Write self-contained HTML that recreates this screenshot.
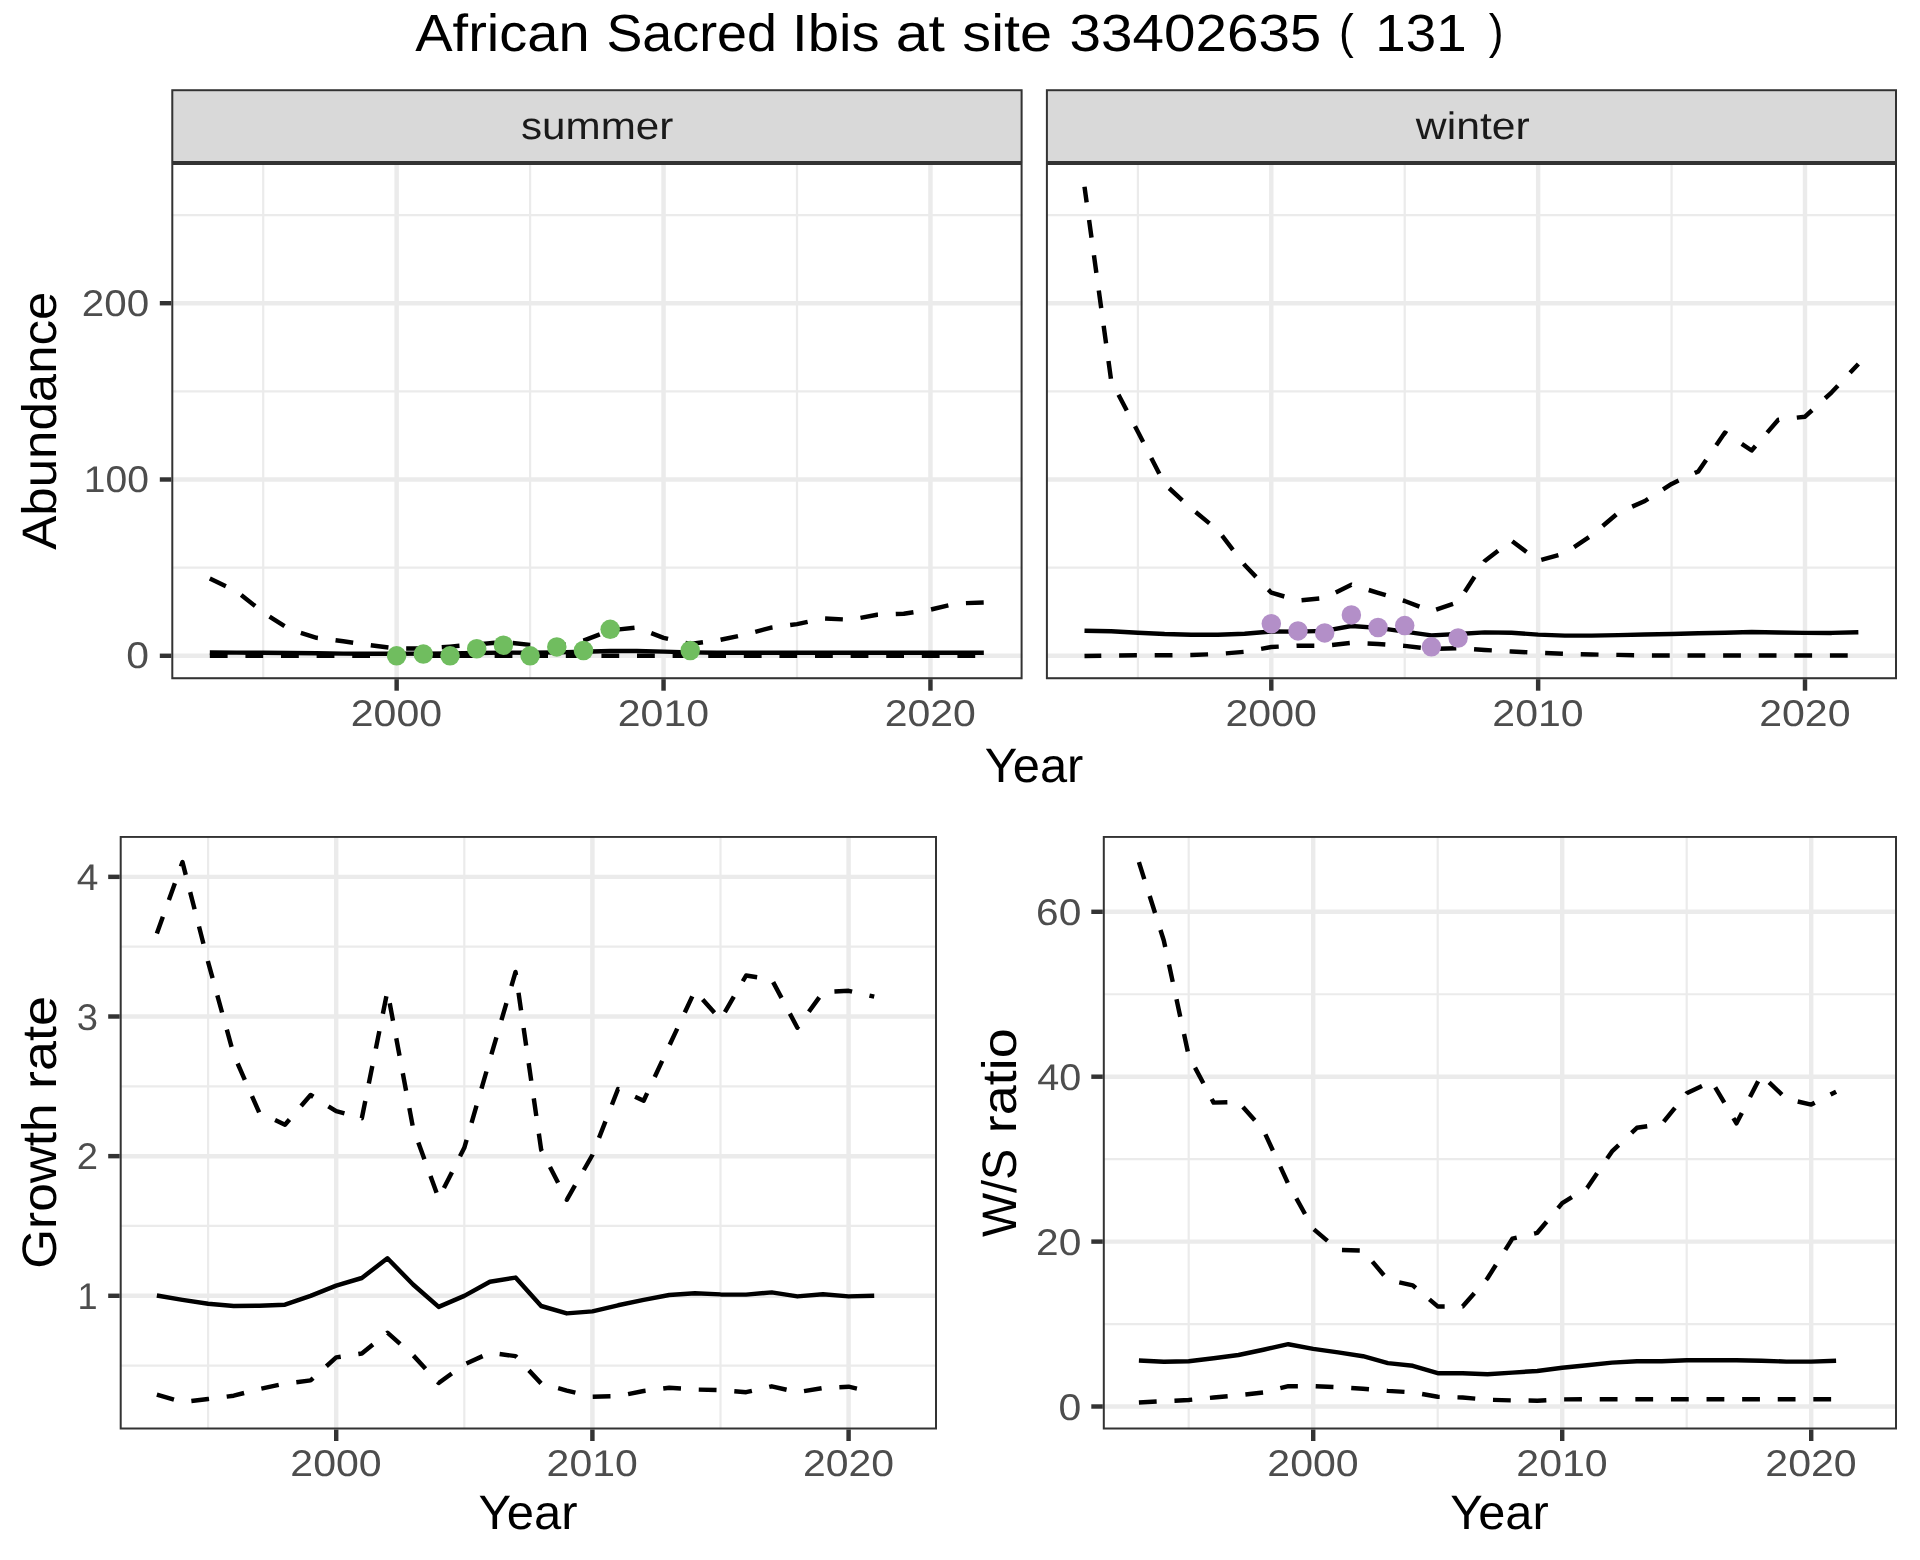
<!DOCTYPE html>
<html><head><meta charset="utf-8"><title>African Sacred Ibis at site 33402635</title>
<style>html,body{margin:0;padding:0;background:#ffffff;}body{width:1920px;height:1560px;overflow:hidden;}svg{display:block;will-change:transform;}text{text-rendering:geometricPrecision;}text{font-family:"Liberation Sans",sans-serif;}</style>
</head><body>
<svg width="1920" height="1560" viewBox="0 0 1920 1560" font-family="Liberation Sans, sans-serif">
<rect width="1920" height="1560" fill="#ffffff"/>
<text transform="translate(415.21,50.6) scale(1.0713,1)" font-size="52.3" fill="#000000">African</text>
<text transform="translate(606.38,50.6) scale(1.0297,1)" font-size="52.3" fill="#000000">Sacred</text>
<text transform="translate(792.05,50.6) scale(1.0747,1)" font-size="52.3" fill="#000000">Ibis</text>
<text transform="translate(895.78,50.6) scale(1.1269,1)" font-size="52.3" fill="#000000">at</text>
<text transform="translate(962.37,50.6) scale(1.1010,1)" font-size="52.3" fill="#000000">site</text>
<text transform="translate(1069.47,50.6) scale(1.0825,1)" font-size="52.3" fill="#000000">33402635</text>
<text transform="translate(1339.07,48) scale(0.8477,0.926)" font-size="52.3" fill="#000000">(</text>
<text transform="translate(1375.27,50.6) scale(1.0462,1)" font-size="52.3" fill="#000000">131</text>
<text transform="translate(1488.68,48) scale(0.8479,0.926)" font-size="52.3" fill="#000000">)</text>
<clipPath id="cs0"><rect x="171.3" y="89.2" width="851.3" height="73.8"/></clipPath>
<rect x="171.3" y="89.2" width="851.3" height="73.8" fill="#D9D9D9" stroke="#333333" stroke-width="4.0" clip-path="url(#cs0)"/>
<clipPath id="cs1"><rect x="1045.9" y="89.2" width="851.1" height="73.8"/></clipPath>
<rect x="1045.9" y="89.2" width="851.1" height="73.8" fill="#D9D9D9" stroke="#333333" stroke-width="4.0" clip-path="url(#cs1)"/>
<text transform="translate(520.98,138.75) scale(1.1004,1)" font-size="38.35" fill="#1A1A1A">summer</text>
<text transform="translate(1415.84,138.75) scale(1.1140,1)" font-size="38.35" fill="#1A1A1A">winter</text>
<clipPath id="cp1"><rect x="171.3" y="163" width="851.3" height="516.2"/></clipPath>
<g clip-path="url(#cp1)">
<rect x="171.3" y="163" width="851.3" height="516.2" fill="#ffffff"/>
<line x1="171.3" x2="1022.6" y1="567.65" y2="567.65" stroke="#EBEBEB" stroke-width="2.2"/>
<line x1="171.3" x2="1022.6" y1="391.35" y2="391.35" stroke="#EBEBEB" stroke-width="2.2"/>
<line x1="171.3" x2="1022.6" y1="215.05" y2="215.05" stroke="#EBEBEB" stroke-width="2.2"/>
<line y1="163" y2="679.2" x1="263.2" x2="263.2" stroke="#EBEBEB" stroke-width="2.2"/>
<line y1="163" y2="679.2" x1="530.1" x2="530.1" stroke="#EBEBEB" stroke-width="2.2"/>
<line y1="163" y2="679.2" x1="797" x2="797" stroke="#EBEBEB" stroke-width="2.2"/>
<line x1="171.3" x2="1022.6" y1="655.8" y2="655.8" stroke="#EBEBEB" stroke-width="4.45"/>
<line x1="171.3" x2="1022.6" y1="479.5" y2="479.5" stroke="#EBEBEB" stroke-width="4.45"/>
<line x1="171.3" x2="1022.6" y1="303.2" y2="303.2" stroke="#EBEBEB" stroke-width="4.45"/>
<line y1="163" y2="679.2" x1="396.65" x2="396.65" stroke="#EBEBEB" stroke-width="4.45"/>
<line y1="163" y2="679.2" x1="663.55" x2="663.55" stroke="#EBEBEB" stroke-width="4.45"/>
<line y1="163" y2="679.2" x1="930.45" x2="930.45" stroke="#EBEBEB" stroke-width="4.45"/>
</g>
<clipPath id="cp2"><rect x="1045.9" y="163" width="851.1" height="516.2"/></clipPath>
<g clip-path="url(#cp2)">
<rect x="1045.9" y="163" width="851.1" height="516.2" fill="#ffffff"/>
<line x1="1045.9" x2="1897" y1="567.65" y2="567.65" stroke="#EBEBEB" stroke-width="2.2"/>
<line x1="1045.9" x2="1897" y1="391.35" y2="391.35" stroke="#EBEBEB" stroke-width="2.2"/>
<line x1="1045.9" x2="1897" y1="215.05" y2="215.05" stroke="#EBEBEB" stroke-width="2.2"/>
<line y1="163" y2="679.2" x1="1137.88" x2="1137.88" stroke="#EBEBEB" stroke-width="2.2"/>
<line y1="163" y2="679.2" x1="1404.72" x2="1404.72" stroke="#EBEBEB" stroke-width="2.2"/>
<line y1="163" y2="679.2" x1="1671.57" x2="1671.57" stroke="#EBEBEB" stroke-width="2.2"/>
<line x1="1045.9" x2="1897" y1="655.8" y2="655.8" stroke="#EBEBEB" stroke-width="4.45"/>
<line x1="1045.9" x2="1897" y1="479.5" y2="479.5" stroke="#EBEBEB" stroke-width="4.45"/>
<line x1="1045.9" x2="1897" y1="303.2" y2="303.2" stroke="#EBEBEB" stroke-width="4.45"/>
<line y1="163" y2="679.2" x1="1271.3" x2="1271.3" stroke="#EBEBEB" stroke-width="4.45"/>
<line y1="163" y2="679.2" x1="1538.15" x2="1538.15" stroke="#EBEBEB" stroke-width="4.45"/>
<line y1="163" y2="679.2" x1="1805" x2="1805" stroke="#EBEBEB" stroke-width="4.45"/>
</g>
<g clip-path="url(#cp1)">
<polyline points="209.82,652.5 236.51,652.6 263.2,652.8 289.89,653 316.58,653.3 343.27,653.6 369.96,653.8 396.65,653.8 423.34,653.6 450.03,653.4 476.72,653 503.41,652.6 530.1,652.8 556.79,652.4 583.48,651.8 610.17,651 636.86,651 663.55,651.6 690.24,652.4 716.93,652.7 743.62,652.75 770.31,652.75 797,652.75 823.69,652.75 850.38,652.75 877.07,652.75 903.76,652.75 930.45,652.75 957.14,652.75 983.83,652.75" fill="none" stroke="#000000" stroke-width="4.45" stroke-linejoin="round" stroke-linecap="butt"/>
<polyline points="209.82,655.7 236.51,655.7 263.2,655.7 289.89,655.7 316.58,655.7 343.27,655.7 369.96,655.7 396.65,655.7 423.34,655.7 450.03,655.7 476.72,655.7 503.41,655.7 530.1,655.7 556.79,655.7 583.48,655.7 610.17,655.7 636.86,655.7 663.55,655.7 690.24,655.7 716.93,655.7 743.62,655.7 770.31,655.7 797,655.7 823.69,655.7 850.38,655.7 877.07,655.7 903.76,655.7 930.45,655.7 957.14,655.7 983.83,655.7" fill="none" stroke="#000000" stroke-width="4.45" stroke-linejoin="round" stroke-linecap="butt" stroke-dasharray="17.8 17.8"/>
<polyline points="209.82,578.5 236.51,591.3 263.2,612.5 289.89,629.5 316.58,637.8 343.27,641.3 369.96,645.2 396.65,648.5 423.34,648.5 450.03,646.6 476.72,644.4 503.41,641.9 530.1,644.9 556.79,646 583.48,640.6 610.17,630.3 636.86,627.5 663.55,637.8 690.24,644 716.93,640.5 743.62,634.9 770.31,627.8 797,624.1 823.69,618.4 850.38,619.75 877.07,614.7 903.76,613.75 930.45,609.6 957.14,603.4 983.83,602.5" fill="none" stroke="#000000" stroke-width="4.45" stroke-linejoin="round" stroke-linecap="butt" stroke-dasharray="17.8 17.8"/>
<circle cx="396.65" cy="655.8" r="9.75" fill="#70BD5F"/>
<circle cx="423.34" cy="654.04" r="9.75" fill="#70BD5F"/>
<circle cx="450.03" cy="655.8" r="9.75" fill="#70BD5F"/>
<circle cx="476.72" cy="648.75" r="9.75" fill="#70BD5F"/>
<circle cx="503.41" cy="645.22" r="9.75" fill="#70BD5F"/>
<circle cx="530.1" cy="655.8" r="9.75" fill="#70BD5F"/>
<circle cx="556.79" cy="646.98" r="9.75" fill="#70BD5F"/>
<circle cx="583.48" cy="650.51" r="9.75" fill="#70BD5F"/>
<circle cx="610.17" cy="629.35" r="9.75" fill="#70BD5F"/>
<circle cx="690.24" cy="650.51" r="9.75" fill="#70BD5F"/>
</g>
<g clip-path="url(#cp2)">
<polyline points="1084.5,630.7 1111.19,631.3 1137.88,632.7 1164.56,634 1191.24,634.7 1217.93,634.7 1244.62,633.8 1271.3,631.5 1297.98,631.6 1324.67,630.9 1351.36,626 1378.04,627.9 1404.72,631.6 1431.41,635.4 1458.1,634 1484.78,632.4 1511.46,632.75 1538.15,634.6 1564.84,635.6 1591.52,635.6 1618.2,635.1 1644.89,634.5 1671.57,634 1698.26,633.2 1724.94,632.7 1751.63,632 1778.32,632.5 1805,632.9 1831.68,632.9 1858.37,632.3" fill="none" stroke="#000000" stroke-width="4.45" stroke-linejoin="round" stroke-linecap="butt"/>
<polyline points="1084.5,656 1111.19,655.5 1137.88,655.3 1164.56,655.3 1191.24,655 1217.93,654 1244.62,651.8 1271.3,647 1297.98,645.7 1324.67,645.7 1351.36,642.9 1378.04,644 1404.72,645.9 1431.41,649 1458.1,648.1 1484.78,650 1511.46,651.5 1538.15,652.8 1564.84,653.75 1591.52,654.5 1618.2,654.9 1644.89,655.4 1671.57,655.4 1698.26,655.4 1724.94,655.4 1751.63,655.4 1778.32,655.4 1805,655.4 1831.68,655.4 1858.37,655.4" fill="none" stroke="#000000" stroke-width="4.45" stroke-linejoin="round" stroke-linecap="butt" stroke-dasharray="17.8 17.8" stroke-dashoffset="1"/>
<polyline points="1084.5,186.7 1111.19,380.7 1137.88,431.7 1164.56,484 1191.24,508.5 1217.93,530.3 1244.62,565 1271.3,592.7 1297.98,600.5 1324.67,598 1351.36,584.75 1378.04,592.8 1404.72,601 1431.41,611.2 1458.1,602.2 1484.78,560.9 1511.46,540.7 1538.15,560.75 1564.84,553.2 1591.52,535.5 1618.2,512.8 1644.89,501 1671.57,483.9 1698.26,471.4 1724.94,432.6 1751.63,450.5 1778.32,419.8 1805,416.7 1831.68,392.3 1858.37,364" fill="none" stroke="#000000" stroke-width="4.45" stroke-linejoin="round" stroke-linecap="butt" stroke-dasharray="17.8 17.8" stroke-dashoffset="2"/>
<circle cx="1271.3" cy="623.75" r="9.75" fill="#B38FC8"/>
<circle cx="1297.98" cy="630.9" r="9.75" fill="#B38FC8"/>
<circle cx="1324.67" cy="632.9" r="9.75" fill="#B38FC8"/>
<circle cx="1351.36" cy="614.9" r="9.75" fill="#B38FC8"/>
<circle cx="1378.04" cy="627.5" r="9.75" fill="#B38FC8"/>
<circle cx="1404.72" cy="625.6" r="9.75" fill="#B38FC8"/>
<circle cx="1431.41" cy="646.8" r="9.75" fill="#B38FC8"/>
<circle cx="1458.1" cy="638" r="9.75" fill="#B38FC8"/>
</g>
<rect x="171.3" y="163" width="851.3" height="516.2" fill="none" stroke="#333333" stroke-width="4.0" clip-path="url(#cp1)"/>
<rect x="1045.9" y="163" width="851.1" height="516.2" fill="none" stroke="#333333" stroke-width="4.0" clip-path="url(#cp2)"/>
<line x1="396.65" x2="396.65" y1="679.2" y2="690.7" stroke="#333333" stroke-width="4.45"/>
<line x1="663.55" x2="663.55" y1="679.2" y2="690.7" stroke="#333333" stroke-width="4.45"/>
<line x1="930.45" x2="930.45" y1="679.2" y2="690.7" stroke="#333333" stroke-width="4.45"/>
<line x1="1271.3" x2="1271.3" y1="679.2" y2="690.7" stroke="#333333" stroke-width="4.45"/>
<line x1="1538.15" x2="1538.15" y1="679.2" y2="690.7" stroke="#333333" stroke-width="4.45"/>
<line x1="1805" x2="1805" y1="679.2" y2="690.7" stroke="#333333" stroke-width="4.45"/>
<line y1="655.8" y2="655.8" x1="159.8" x2="171.3" stroke="#333333" stroke-width="4.45"/>
<line y1="479.5" y2="479.5" x1="159.8" x2="171.3" stroke="#333333" stroke-width="4.45"/>
<line y1="303.2" y2="303.2" x1="159.8" x2="171.3" stroke="#333333" stroke-width="4.45"/>
<text transform="translate(350.74,725.8) scale(1.1066,1)" font-size="37.1" fill="#4D4D4D">2000</text>
<text transform="translate(617.83,725.8) scale(1.1054,1)" font-size="37.1" fill="#4D4D4D">2010</text>
<text transform="translate(884.68,725.8) scale(1.1057,1)" font-size="37.1" fill="#4D4D4D">2020</text>
<text transform="translate(1225.54,725.8) scale(1.1067,1)" font-size="37.1" fill="#4D4D4D">2000</text>
<text transform="translate(1492.36,725.8) scale(1.1053,1)" font-size="37.1" fill="#4D4D4D">2010</text>
<text transform="translate(1759.17,725.8) scale(1.1072,1)" font-size="37.1" fill="#4D4D4D">2020</text>
<text transform="translate(81.83,315.7) scale(1.0877,1)" font-size="37.1" fill="#4D4D4D">200</text>
<text transform="translate(83.77,492) scale(1.0531,1)" font-size="37.1" fill="#4D4D4D">100</text>
<text transform="translate(126.19,668.3) scale(1.1030,1)" font-size="37.1" fill="#4D4D4D">0</text>
<text transform="translate(984.77,782) scale(1.0085,1)" font-size="48.4" fill="#000000">Year</text>
<text transform="translate(56.2,549.7) rotate(-90) scale(1.0540,1)" font-size="48.4" fill="#000000">Abundance</text>
<clipPath id="cp3"><rect x="119.7" y="835.9" width="817.3" height="593.6"/></clipPath>
<g clip-path="url(#cp3)">
<rect x="119.7" y="835.9" width="817.3" height="593.6" fill="#ffffff"/>
<line x1="119.7" x2="937" y1="1365.62" y2="1365.62" stroke="#EBEBEB" stroke-width="2.2"/>
<line x1="119.7" x2="937" y1="1225.97" y2="1225.97" stroke="#EBEBEB" stroke-width="2.2"/>
<line x1="119.7" x2="937" y1="1086.32" y2="1086.32" stroke="#EBEBEB" stroke-width="2.2"/>
<line x1="119.7" x2="937" y1="946.67" y2="946.67" stroke="#EBEBEB" stroke-width="2.2"/>
<line y1="835.9" y2="1429.5" x1="208.1" x2="208.1" stroke="#EBEBEB" stroke-width="2.2"/>
<line y1="835.9" y2="1429.5" x1="464.3" x2="464.3" stroke="#EBEBEB" stroke-width="2.2"/>
<line y1="835.9" y2="1429.5" x1="720.5" x2="720.5" stroke="#EBEBEB" stroke-width="2.2"/>
<line x1="119.7" x2="937" y1="1295.8" y2="1295.8" stroke="#EBEBEB" stroke-width="4.45"/>
<line x1="119.7" x2="937" y1="1156.15" y2="1156.15" stroke="#EBEBEB" stroke-width="4.45"/>
<line x1="119.7" x2="937" y1="1016.5" y2="1016.5" stroke="#EBEBEB" stroke-width="4.45"/>
<line x1="119.7" x2="937" y1="876.85" y2="876.85" stroke="#EBEBEB" stroke-width="4.45"/>
<line y1="835.9" y2="1429.5" x1="336.2" x2="336.2" stroke="#EBEBEB" stroke-width="4.45"/>
<line y1="835.9" y2="1429.5" x1="592.4" x2="592.4" stroke="#EBEBEB" stroke-width="4.45"/>
<line y1="835.9" y2="1429.5" x1="848.6" x2="848.6" stroke="#EBEBEB" stroke-width="4.45"/>
</g>
<g clip-path="url(#cp3)">
<polyline points="156.86,1295.5 182.48,1299.9 208.1,1303.8 233.72,1306 259.34,1305.8 284.96,1304.7 310.58,1295.9 336.2,1285.6 361.82,1278 387.44,1258.3 413.06,1284.5 438.68,1306.9 464.3,1295.9 489.92,1281.7 515.54,1277.6 541.16,1306 566.78,1313.4 592.4,1311.4 618.02,1305.3 643.64,1299.9 669.26,1295 694.88,1293.3 720.5,1294.4 746.12,1294.6 771.74,1292.4 797.36,1296.4 822.98,1294.2 848.6,1296.4 874.22,1295.7" fill="none" stroke="#000000" stroke-width="4.45" stroke-linejoin="round" stroke-linecap="butt"/>
<polyline points="156.86,1394.6 182.48,1402 208.1,1399 233.72,1395.7 259.34,1389.1 284.96,1383.6 310.58,1380.4 336.2,1357.4 361.82,1353.5 387.44,1332.7 413.06,1355.2 438.68,1383 464.3,1364.4 489.92,1352.8 515.54,1356.1 541.16,1383.5 566.78,1390.6 592.4,1396.8 618.02,1396.1 643.64,1391 669.26,1387.8 694.88,1389.5 720.5,1390.2 746.12,1392.2 771.74,1386.3 797.36,1392.2 822.98,1388 848.6,1386.7 874.22,1392.4" fill="none" stroke="#000000" stroke-width="4.45" stroke-linejoin="round" stroke-linecap="butt" stroke-dasharray="17.8 17.8"/>
<polyline points="156.86,933.5 182.48,862.1 208.1,962 233.72,1054.6 259.34,1112.8 284.96,1124.7 310.58,1095 336.2,1111.2 361.82,1118.2 387.44,991 413.06,1128.1 438.68,1198.5 464.3,1147.8 489.92,1059.5 515.54,972 541.16,1149.7 566.78,1199.8 592.4,1155 618.02,1089 643.64,1100.7 669.26,1045.7 694.88,990.8 720.5,1019.6 746.12,975.5 771.74,979.5 797.36,1027.7 822.98,992.2 848.6,990.8 874.22,996.7" fill="none" stroke="#000000" stroke-width="4.45" stroke-linejoin="round" stroke-linecap="butt" stroke-dasharray="17.8 17.8"/>
</g>
<rect x="119.7" y="835.9" width="817.3" height="593.6" fill="none" stroke="#333333" stroke-width="4.0" clip-path="url(#cp3)"/>
<line x1="336.2" x2="336.2" y1="1429.5" y2="1441" stroke="#333333" stroke-width="4.45"/>
<line x1="592.4" x2="592.4" y1="1429.5" y2="1441" stroke="#333333" stroke-width="4.45"/>
<line x1="848.6" x2="848.6" y1="1429.5" y2="1441" stroke="#333333" stroke-width="4.45"/>
<line y1="1295.8" y2="1295.8" x1="108.2" x2="119.7" stroke="#333333" stroke-width="4.45"/>
<line y1="1156.15" y2="1156.15" x1="108.2" x2="119.7" stroke="#333333" stroke-width="4.45"/>
<line y1="1016.5" y2="1016.5" x1="108.2" x2="119.7" stroke="#333333" stroke-width="4.45"/>
<line y1="876.85" y2="876.85" x1="108.2" x2="119.7" stroke="#333333" stroke-width="4.45"/>
<text transform="translate(290.34,1476) scale(1.1074,1)" font-size="37.1" fill="#4D4D4D">2000</text>
<text transform="translate(546.62,1476) scale(1.1048,1)" font-size="37.1" fill="#4D4D4D">2010</text>
<text transform="translate(802.92,1476) scale(1.1036,1)" font-size="37.1" fill="#4D4D4D">2020</text>
<text transform="translate(76.67,889.85) scale(1.0492,1)" font-size="37.1" fill="#4D4D4D">4</text>
<text transform="translate(76.79,1029.5) scale(1.0301,1)" font-size="37.1" fill="#4D4D4D">3</text>
<text transform="translate(76.74,1169.15) scale(1.0319,1)" font-size="37.1" fill="#4D4D4D">2</text>
<text transform="translate(77.5,1308.8) scale(0.9726,1)" font-size="37.1" fill="#4D4D4D">1</text>
<text transform="translate(478.51,1528.9) scale(1.0121,1)" font-size="48.4" fill="#000000">Year</text>
<text transform="translate(55.9,1268.82) rotate(-90) scale(1.0605,1)" font-size="48.4" fill="#000000">Growth</text>
<text transform="translate(55.9,1088.96) rotate(-90) scale(1.1164,1)" font-size="48.4" fill="#000000">rate</text>
<clipPath id="cp4"><rect x="1102.8" y="835.9" width="794.2" height="593.6"/></clipPath>
<g clip-path="url(#cp4)">
<rect x="1102.8" y="835.9" width="794.2" height="593.6" fill="#ffffff"/>
<line x1="1102.8" x2="1897" y1="1324.05" y2="1324.05" stroke="#EBEBEB" stroke-width="2.2"/>
<line x1="1102.8" x2="1897" y1="1159.15" y2="1159.15" stroke="#EBEBEB" stroke-width="2.2"/>
<line x1="1102.8" x2="1897" y1="994.25" y2="994.25" stroke="#EBEBEB" stroke-width="2.2"/>
<line y1="835.9" y2="1429.5" x1="1188.7" x2="1188.7" stroke="#EBEBEB" stroke-width="2.2"/>
<line y1="835.9" y2="1429.5" x1="1437.7" x2="1437.7" stroke="#EBEBEB" stroke-width="2.2"/>
<line y1="835.9" y2="1429.5" x1="1686.7" x2="1686.7" stroke="#EBEBEB" stroke-width="2.2"/>
<line x1="1102.8" x2="1897" y1="1406.5" y2="1406.5" stroke="#EBEBEB" stroke-width="4.45"/>
<line x1="1102.8" x2="1897" y1="1241.6" y2="1241.6" stroke="#EBEBEB" stroke-width="4.45"/>
<line x1="1102.8" x2="1897" y1="1076.7" y2="1076.7" stroke="#EBEBEB" stroke-width="4.45"/>
<line x1="1102.8" x2="1897" y1="911.8" y2="911.8" stroke="#EBEBEB" stroke-width="4.45"/>
<line y1="835.9" y2="1429.5" x1="1313.2" x2="1313.2" stroke="#EBEBEB" stroke-width="4.45"/>
<line y1="835.9" y2="1429.5" x1="1562.2" x2="1562.2" stroke="#EBEBEB" stroke-width="4.45"/>
<line y1="835.9" y2="1429.5" x1="1811.2" x2="1811.2" stroke="#EBEBEB" stroke-width="4.45"/>
</g>
<g clip-path="url(#cp4)">
<polyline points="1138.9,1360.5 1163.8,1361.7 1188.7,1361.3 1213.6,1358.3 1238.5,1355 1263.4,1349.7 1288.3,1344.2 1313.2,1348.9 1338.1,1352.4 1363,1356.2 1387.9,1363.1 1412.8,1365.8 1437.7,1373.2 1462.6,1373.2 1487.5,1374.2 1512.4,1372.6 1537.3,1371 1562.2,1367.8 1587.1,1365.2 1612,1362.6 1636.9,1361.3 1661.8,1361.3 1686.7,1360.3 1711.6,1360.3 1736.5,1360.3 1761.4,1360.7 1786.3,1361.6 1811.2,1361.6 1836.1,1360.7" fill="none" stroke="#000000" stroke-width="4.45" stroke-linejoin="round" stroke-linecap="butt"/>
<polyline points="1138.9,1402.5 1163.8,1401.2 1188.7,1400 1213.6,1397.5 1238.5,1395.3 1263.4,1392.5 1288.3,1386.2 1313.2,1386.2 1338.1,1387.3 1363,1388.8 1387.9,1390.9 1412.8,1392.4 1437.7,1396.8 1462.6,1397.5 1487.5,1399.7 1512.4,1400.4 1537.3,1400.7 1562.2,1399.4 1587.1,1399.3 1612,1399.3 1636.9,1399.3 1661.8,1399.3 1686.7,1399.3 1711.6,1399.3 1736.5,1399.3 1761.4,1399.3 1786.3,1399.3 1811.2,1399.3 1836.1,1399.3" fill="none" stroke="#000000" stroke-width="4.45" stroke-linejoin="round" stroke-linecap="butt" stroke-dasharray="17.8 17.8"/>
<polyline points="1138.9,862.1 1163.8,940.5 1188.7,1055.7 1213.6,1102.6 1238.5,1102 1263.4,1130 1288.3,1184 1313.2,1228.7 1338.1,1249.9 1363,1250.5 1387.9,1279.9 1412.8,1285.4 1437.7,1306.4 1462.6,1306.4 1487.5,1278.3 1512.4,1238.6 1537.3,1232.8 1562.2,1203.1 1587.1,1187.9 1612,1151.4 1636.9,1127.8 1661.8,1124 1686.7,1093.3 1711.6,1081.3 1736.5,1123.3 1761.4,1074.9 1786.3,1098.8 1811.2,1104.6 1836.1,1091.7" fill="none" stroke="#000000" stroke-width="4.45" stroke-linejoin="round" stroke-linecap="butt" stroke-dasharray="17.8 17.8"/>
</g>
<rect x="1102.8" y="835.9" width="794.2" height="593.6" fill="none" stroke="#333333" stroke-width="4.0" clip-path="url(#cp4)"/>
<line x1="1313.2" x2="1313.2" y1="1429.5" y2="1441" stroke="#333333" stroke-width="4.45"/>
<line x1="1562.2" x2="1562.2" y1="1429.5" y2="1441" stroke="#333333" stroke-width="4.45"/>
<line x1="1811.2" x2="1811.2" y1="1429.5" y2="1441" stroke="#333333" stroke-width="4.45"/>
<line y1="1406.5" y2="1406.5" x1="1091.3" x2="1102.8" stroke="#333333" stroke-width="4.45"/>
<line y1="1241.6" y2="1241.6" x1="1091.3" x2="1102.8" stroke="#333333" stroke-width="4.45"/>
<line y1="1076.7" y2="1076.7" x1="1091.3" x2="1102.8" stroke="#333333" stroke-width="4.45"/>
<line y1="911.8" y2="911.8" x1="1091.3" x2="1102.8" stroke="#333333" stroke-width="4.45"/>
<text transform="translate(1267.34,1476) scale(1.1074,1)" font-size="37.1" fill="#4D4D4D">2000</text>
<text transform="translate(1516.34,1476) scale(1.1074,1)" font-size="37.1" fill="#4D4D4D">2010</text>
<text transform="translate(1765.34,1476) scale(1.1074,1)" font-size="37.1" fill="#4D4D4D">2020</text>
<text transform="translate(1036.04,924.8) scale(1.0971,1)" font-size="37.1" fill="#4D4D4D">60</text>
<text transform="translate(1037.35,1089.7) scale(1.0668,1)" font-size="37.1" fill="#4D4D4D">40</text>
<text transform="translate(1036.12,1254.6) scale(1.0964,1)" font-size="37.1" fill="#4D4D4D">20</text>
<text transform="translate(1058.5,1419.5) scale(1.1046,1)" font-size="37.1" fill="#4D4D4D">0</text>
<text transform="translate(1450.22,1528.9) scale(1.0073,1)" font-size="48.4" fill="#000000">Year</text>
<text transform="translate(1016,1237) rotate(-90) scale(0.9658,1)" font-size="48.4" fill="#000000">W/S</text>
<text transform="translate(1016,1133.24) rotate(-90) scale(1.1137,1)" font-size="48.4" fill="#000000">ratio</text>
</svg></body></html>
